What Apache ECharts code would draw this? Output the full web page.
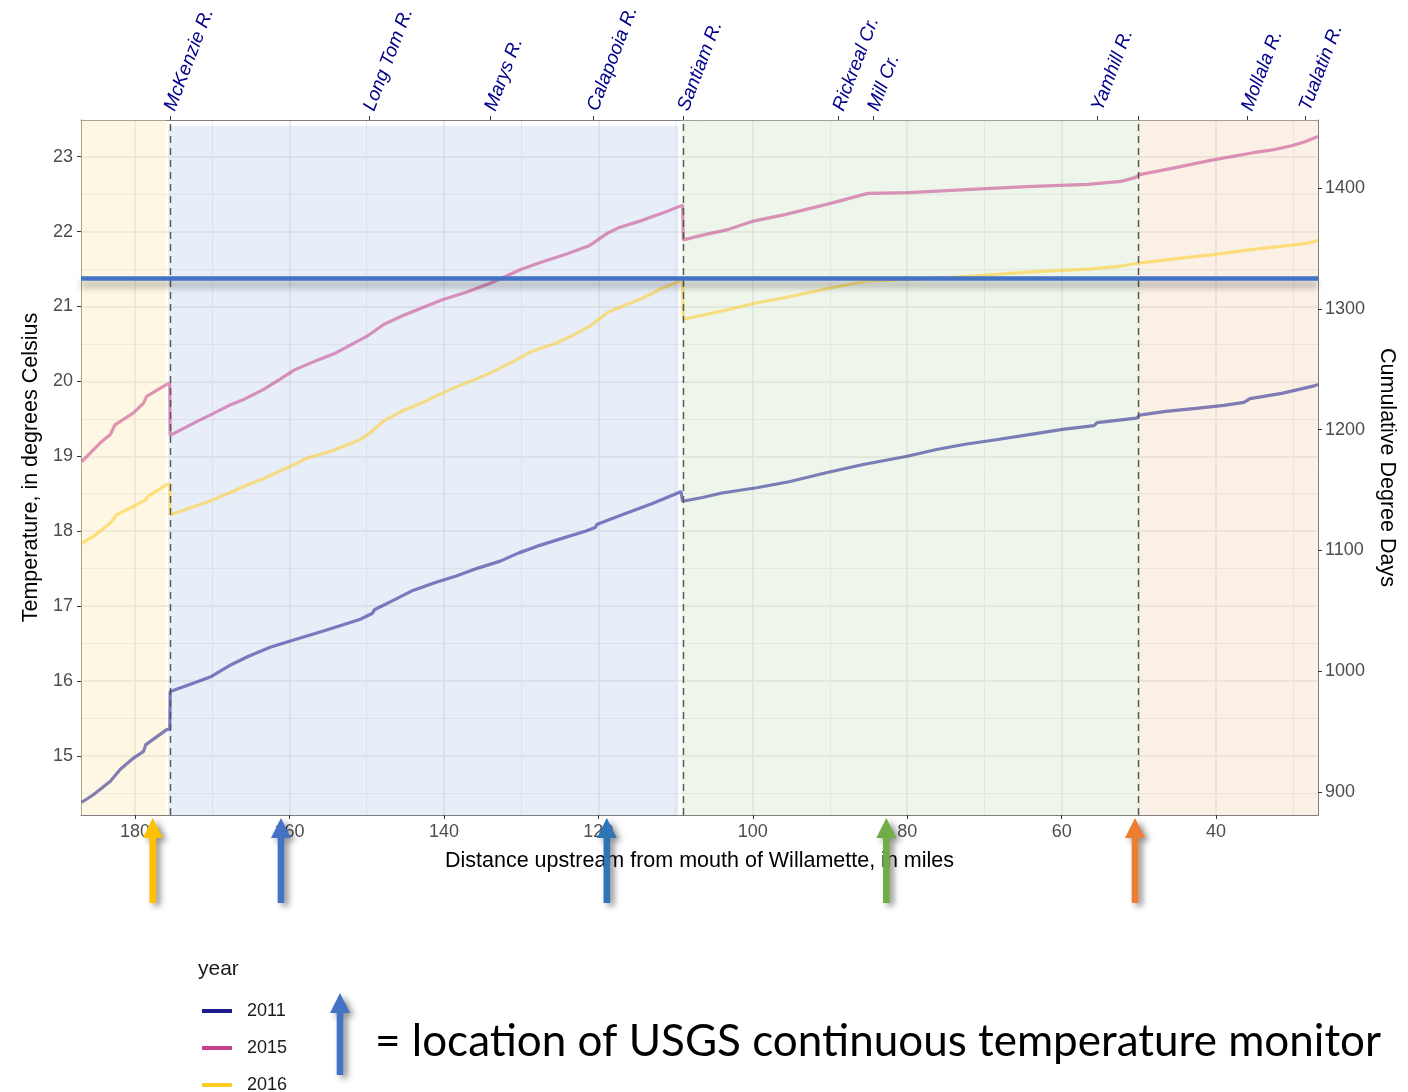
<!DOCTYPE html>
<html><head><meta charset="utf-8">
<script src="https://cdn.jsdelivr.net/npm/echarts@6/dist/echarts.min.js"></script>
<style>html,body{margin:0;padding:0;background:#fff;}#c{width:1408px;height:1092px;}</style>
</head><body><div id="c"></div>
<script>
// ---- axis ranges & ticks ----
const xMin = 26.8, xMax = 187.0;
const yMin = 14.21, yMax = 23.49;
const ddPerDegree = 62;
const xMajorTicks = [40, 60, 80, 100, 120, 140, 160, 180];
const xMinorTicks = [30, 50, 70, 90, 110, 130, 150, 170];
const yMajorTicks = [15, 16, 17, 18, 19, 20, 21, 22, 23];
const yMinorTicks = [14.5, 15.5, 16.5, 17.5, 18.5, 19.5, 20.5, 21.5, 22.5];
const ddTicks = [900, 1000, 1100, 1200, 1300, 1400];

// ---- tributaries (top axis) ----
const riverNames = ['McKenzie R.', 'Long Tom R.', 'Marys R.', 'Calapooia R.', 'Santiam R.', 'Rickreal Cr.', 'Mill Cr.', 'Yamhill R.', 'Mollala R.', 'Tualatin R.'];
const riverMiles = [175.5, 149.7, 134.0, 120.7, 109.0, 88.9, 84.4, 55.4, 36.0, 28.5];
const boundaryMiles = [175.5, 109.0, 50.1];

// ---- reach shading ----
const regionStart = [187.0, 175.7, 109.2, 50.1];
const regionEnd = [175.96, 109.6, 50.1, 26.8];
const regionTop = [23.49, 23.41, 23.49, 23.49];

// ---- series (miles upstream, temperature C) ----
const years = ['2011', '2015', '2016'];
const series2011 = [[186.9,14.38],[185.4,14.48],[183.2,14.66],[181.9,14.82],[180.2,14.97],[178.9,15.06],[178.6,15.15],[178.5,15.17],[175.9,15.35],[175.5,15.36],[175.45,15.86],[173.0,15.95],[170.1,16.06],[167.5,16.22],[165.3,16.33],[162.5,16.45],[160.0,16.53],[155.5,16.67],[150.9,16.82],[149.3,16.90],[149.0,16.95],[146.5,17.08],[144.2,17.20],[141.2,17.31],[138.4,17.40],[135.5,17.51],[132.7,17.60],[130.3,17.71],[127.9,17.80],[124.8,17.90],[121.7,18.00],[120.4,18.05],[120.2,18.09],[118.2,18.17],[116.4,18.24],[113.0,18.37],[109.7,18.51],[109.3,18.53],[109.1,18.40],[106.5,18.45],[104.0,18.51],[99.5,18.58],[95.3,18.66],[90.5,18.78],[85.7,18.89],[80.0,19.00],[76.2,19.09],[72.5,19.16],[68.5,19.22],[64.2,19.29],[59.9,19.36],[55.8,19.41],[55.4,19.45],[50.3,19.51],[49.9,19.55],[46.5,19.60],[42.6,19.64],[39.0,19.68],[36.4,19.72],[35.6,19.77],[31.5,19.84],[27.3,19.94],[26.8,19.96]];
const series2015 = [[186.9,18.93],[184.5,19.18],[183.2,19.29],[182.6,19.42],[180.2,19.58],[178.9,19.71],[178.5,19.80],[175.9,19.96],[175.5,19.97],[175.45,19.28],[171.9,19.47],[170.1,19.56],[167.8,19.68],[166.1,19.75],[163.4,19.89],[161.2,20.03],[159.4,20.15],[156.7,20.27],[154.0,20.38],[150.0,20.60],[147.8,20.76],[145.5,20.87],[142.9,20.98],[140.2,21.09],[137.1,21.19],[134.0,21.31],[129.9,21.50],[127.7,21.58],[124.1,21.70],[121.2,21.81],[118.8,21.98],[117.4,22.05],[114.3,22.15],[111.6,22.25],[109.4,22.34],[109.1,22.35],[109.0,21.89],[106.2,21.96],[103.1,22.03],[99.9,22.14],[95.7,22.23],[89.8,22.38],[85.1,22.51],[79.8,22.52],[72.4,22.56],[64.5,22.60],[56.6,22.63],[52.3,22.67],[50.5,22.72],[49.9,22.76],[45.9,22.84],[40.7,22.95],[35.4,23.05],[32.7,23.09],[30.1,23.15],[28.5,23.20],[26.8,23.27]];
const series2016 = [[186.9,17.84],[185.4,17.93],[183.2,18.11],[182.4,18.22],[180.2,18.33],[178.6,18.42],[178.4,18.46],[175.9,18.62],[175.5,18.63],[175.45,18.22],[172.3,18.33],[170.1,18.41],[167.8,18.51],[165.2,18.63],[163.4,18.70],[159.8,18.87],[157.6,18.98],[154.5,19.07],[150.9,19.22],[149.6,19.31],[147.8,19.47],[145.5,19.60],[142.9,19.71],[141.1,19.80],[138.8,19.91],[136.6,20.00],[134.0,20.11],[131.3,20.25],[128.6,20.40],[125.5,20.51],[123.2,20.62],[121.2,20.73],[118.8,20.92],[116.5,21.02],[114.3,21.11],[111.6,21.25],[109.4,21.34],[109.1,21.35],[109.0,20.83],[106.2,20.89],[103.1,20.96],[99.9,21.04],[96.2,21.11],[89.8,21.25],[85.1,21.34],[79.8,21.36],[72.4,21.40],[64.5,21.46],[56.6,21.50],[52.3,21.54],[50.0,21.58],[45.9,21.63],[40.7,21.69],[35.4,21.76],[31.2,21.81],[28.5,21.84],[26.8,21.88]];

// ---- annotations ----
const thresholdT = 21.38;
const monitorMiles = [177.7, 161.1, 118.9, 82.7, 50.5];
const monitorColors = ['#ffc000', '#4472c4', '#2e75b6', '#70ad47', '#ed7d31'];

// ---- styles ----
const yearColors = ['#1c1c8c', '#c6408a', '#ffcc22'];
const regionColors = ['rgba(252,232,175,0.35)', 'rgba(190,205,235,0.35)', 'rgba(205,225,195,0.35)', 'rgba(241,212,184,0.35)'];
const FONT = '"Liberation Sans", Arial, sans-serif';

const chart = echarts.init(document.getElementById('c'), null, {renderer: 'canvas'});

function riverLabel(v) {
  for (let i = 0; i < riverMiles.length; i++) if (Math.abs(riverMiles[i] - v) < 0.01) return riverNames[i];
  return '';
}

const lineSeries = [series2011, series2015, series2016].map((d, i) => ({
  name: years[i], type: 'line', data: d, xAxisIndex: 0, yAxisIndex: 0,
  showSymbol: false, symbol: 'none', z: 3 + i * 0.1, silent: true,
  color: yearColors[i],
  itemStyle: {color: yearColors[i]},
  lineStyle: {width: 3.2, color: yearColors[i], opacity: 0.55}
}));

const option = {
  animation: false,
  backgroundColor: '#fff',
  textStyle: {fontFamily: FONT},
  grid: {left: 81, right: 90, top: 120, height: 695, outerBoundsMode: 'none', containLabel: false},
  legend: {
    data: years, orient: 'vertical', left: 202, top: 1002, height: 200, padding: 0,
    icon: 'rect', itemWidth: 30, itemHeight: 4, itemGap: 19,
    itemStyle: {opacity: 1},
    textStyle: {fontSize: 18, color: '#1a1a1a', fontFamily: FONT, padding: [0, 0, 0, 10]}
  },
  xAxis: [
    {
      type: 'value', position: 'bottom', min: xMin, max: xMax, inverse: true,
      axisLine: {show: true, lineStyle: {color: '#7f7f7f', width: 1}},
      axisTick: {show: true, length: 4, customValues: xMajorTicks, lineStyle: {color: '#333'}},
      axisLabel: {customValues: xMajorTicks, fontSize: 18, color: '#4d4d4d', margin: 8, fontFamily: FONT},
      splitLine: {show: true, lineStyle: {color: '#e4e4e4', width: 1.5}},
      name: 'Distance upstream from mouth of Willamette, in miles',
      nameLocation: 'middle', nameGap: 35,
      nameTextStyle: {fontSize: 21.5, color: '#000', fontFamily: FONT}
    },
    {
      type: 'value', position: 'top', min: xMin, max: xMax, inverse: true,
      axisLine: {show: true, lineStyle: {color: '#7f7f7f', width: 1}},
      axisTick: {show: true, length: 4, customValues: riverMiles.concat([50.1]), lineStyle: {color: '#333'}},
      axisLabel: {customValues: riverMiles, formatter: riverLabel, rotate: -69, margin: 10,
        fontSize: 19, fontStyle: 'italic', color: '#00008b', fontFamily: FONT},
      splitLine: {show: false}
    },
    {
      type: 'value', position: 'bottom', offset: 0, min: xMin, max: xMax, inverse: true,
      axisLine: {show: false}, axisLabel: {show: false},
      axisTick: {show: false, customValues: xMinorTicks},
      splitLine: {show: true, lineStyle: {color: '#ebebeb', width: 1}}
    }
  ],
  yAxis: [
    {
      type: 'value', position: 'left', min: yMin, max: yMax,
      axisLine: {show: true, lineStyle: {color: '#7f7f7f', width: 1}},
      axisTick: {show: true, length: 4, customValues: yMajorTicks, lineStyle: {color: '#333'}},
      axisLabel: {customValues: yMajorTicks, fontSize: 18, color: '#4d4d4d', margin: 8, fontFamily: FONT},
      splitLine: {show: true, lineStyle: {color: '#e4e4e4', width: 1.5}},
      name: 'Temperature, in degrees Celsius', nameLocation: 'middle', nameGap: 39, nameRotate: 90,
      nameTextStyle: {fontSize: 21.5, color: '#000', fontFamily: FONT}
    },
    {
      type: 'value', position: 'right', min: yMin * ddPerDegree, max: yMax * ddPerDegree,
      axisLine: {show: true, lineStyle: {color: '#7f7f7f', width: 1}},
      axisTick: {show: true, length: 4, customValues: ddTicks, lineStyle: {color: '#333'}},
      axisLabel: {customValues: ddTicks, formatter: v => String(Math.round(v)), fontSize: 18, color: '#4d4d4d', margin: 7, fontFamily: FONT},
      splitLine: {show: false},
      name: 'Cumulative Degree Days', nameLocation: 'middle', nameGap: 52, nameRotate: -90,
      nameTextStyle: {fontSize: 21.5, color: '#000', fontFamily: FONT}
    },
    {
      type: 'value', position: 'left', offset: 0, min: yMin, max: yMax,
      axisLine: {show: false}, axisLabel: {show: false},
      axisTick: {show: false, customValues: yMinorTicks},
      splitLine: {show: true, lineStyle: {color: '#ebebeb', width: 1}}
    }
  ],
  series: [
    {
      name: 'regions', type: 'line', data: [], z: 1, silent: true,
      markArea: {
        silent: true,
        data: regionStart.map((s, i) => [
          {xAxis: s, yAxis: yMin, itemStyle: {color: regionColors[i]}},
          {xAxis: regionEnd[i], yAxis: regionTop[i]}
        ])
      }
    },
    ...lineSeries,
    {
      name: 'boundaries', type: 'line', data: [], z: 4, silent: true,
      markLine: {
        silent: true, symbol: ['none', 'none'], label: {show: false},
        lineStyle: {color: '#555', type: [7, 5], width: 1.4},
        data: boundaryMiles.map(m => ({xAxis: m}))
      }
    },
    {
      name: 'threshold', type: 'line', data: [], z: 5, silent: true,
      markLine: {
        silent: true, symbol: ['none', 'none'], label: {show: false},
        lineStyle: {color: '#4472c4', type: 'solid', width: 4.5,
          shadowColor: 'rgba(0,0,0,0.35)', shadowBlur: 7, shadowOffsetY: 6},
        data: [{yAxis: thresholdT}]
      }
    },
    {
      name: 'monitors', type: 'custom', clip: false, silent: true, z: 6,
      xAxisIndex: 0, yAxisIndex: 0,
      data: monitorMiles.map((m, i) => [m, i]),
      renderItem: function (params, api) {
        const base = api.coord([api.value(0), yMin]);
        const x = base[0], y0 = base[1];
        const tip = y0 + 3, bottom = y0 + 88, hh = 20, hw = 10, sw = 3.3;
        return {
          type: 'polygon',
          shape: {points: [[x - sw, bottom], [x - sw, tip + hh], [x - hw, tip + hh], [x, tip], [x + hw, tip + hh], [x + sw, tip + hh], [x + sw, bottom]]},
          style: {fill: monitorColors[api.value(1)], shadowBlur: 6, shadowColor: 'rgba(0,0,0,0.45)', shadowOffsetX: 4, shadowOffsetY: 3}
        };
      }
    }
  ],
  graphic: [
    {type: 'text', left: 198, top: 959, silent: true,
      style: {text: 'year', fontSize: 21, fill: '#1a1a1a', fontFamily: FONT}},
    {type: 'polygon', silent: true,
      shape: {points: [[336.7, 1075], [336.7, 1013], [330, 1013], [340, 993], [350, 1013], [343.3, 1013], [343.3, 1075]]},
      style: {fill: '#4472c4', shadowBlur: 6, shadowColor: 'rgba(0,0,0,0.45)', shadowOffsetX: 4, shadowOffsetY: 3}},
    {type: 'text', left: 375, top: 1020, silent: true,
      style: {text: '= location of USGS continuous temperature monitor', fontSize: 44, fill: '#000', fontFamily: 'Lato, "Open Sans", sans-serif'}}
  ]
};
chart.setOption(option);
</script>
</body></html>
